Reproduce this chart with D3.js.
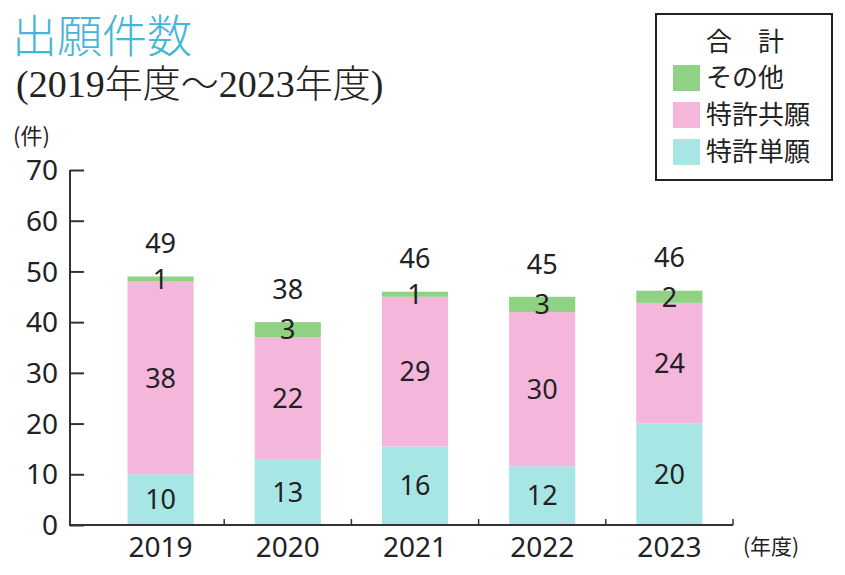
<!DOCTYPE html>
<html><head><meta charset="utf-8">
<script src="https://cdn.jsdelivr.net/npm/d3@7"></script>
<style>body{margin:0;background:#fff}svg{display:block}</style>
</head><body>
<svg id="c" width="845" height="575"></svg>
<script>
const years = ["2019","2020","2021","2022","2023"];
// segment heights as drawn in the picture
const single = [10, 13, 15.5, 11.6, 20];
const joint  = [38, 24, 29.5, 30.4, 23.8];
const other  = [1, 3, 1, 3, 2.4];
// printed labels
const singleLabels = ["10","13","16","12","20"];
const jointLabels  = ["38","22","29","30","24"];
const otherLabels  = ["1","3","1","3","2"];
const totalLabels  = ["49","38","46","45","46"];
const yTicks = [0,10,20,30,40,50,60,70];
const seriesNames = ["その他","特許共願","特許単願"];

const colors = {single:"#a8e6e6", joint:"#f5b6dc", other:"#8fd283"};
const font = "'Noto Sans','Open Sans',sans-serif";
const cjk = "'Noto Sans CJK JP',sans-serif";
const svg = d3.select("#c");

const y = d3.scaleLinear().domain([0,70]).range([525,170]);
const x = d3.scaleBand().domain(years).range([97,733]).paddingInner(0.48).paddingOuter(0.24);

// title
svg.append("text").attr("x",12).attr("y",53).attr("fill","#45b6d6")
  .attr("font-family",cjk).attr("font-weight",300).attr("font-size",45).text("出願件数");
svg.append("text").attr("x",16).attr("y",97).attr("fill","#222").attr("font-weight",300)
  .attr("font-family","'Liberation Serif','DejaVu Serif','Noto Sans CJK JP',serif").attr("font-size",38).text("(2019年度～2023年度)");

// stacked data
const rows = years.map((yr,i)=>({year:yr, single:single[i], joint:joint[i], other:other[i]}));
const stack = d3.stack().keys(["single","joint","other"])(rows);
const labelMap = {single:singleLabels, joint:jointLabels, other:otherLabels};

const g = svg.append("g");
stack.forEach(layer=>{
  g.selectAll(null).data(layer).join("rect")
    .attr("x",d=>x(d.data.year)).attr("width",x.bandwidth())
    .attr("y",d=>y(d[1])).attr("height",d=>y(d[0])-y(d[1]))
    .attr("fill",colors[layer.key]);
});
stack.forEach(layer=>{
  g.selectAll(null).data(layer).join("text")
    .attr("x",d=>x(d.data.year)+x.bandwidth()/2)
    .attr("y",d=>(y(d[0])+y(d[1]))/2)
    .attr("dy","0.36em").attr("text-anchor","middle")
    .attr("font-family",font).attr("font-size",27).attr("fill","#222")
    .text((d,i)=>labelMap[layer.key][i]);
});
// totals
const topLayer = stack[2];
g.selectAll(null).data(topLayer).join("text")
  .attr("x",d=>x(d.data.year)+x.bandwidth()/2)
  .attr("y",d=>y(d[1])-33).attr("dy","0.36em").attr("text-anchor","middle")
  .attr("font-family",font).attr("font-size",27).attr("fill","#222")
  .text((d,i)=>totalLabels[i]);

// y axis
const ya = svg.append("g").attr("transform","translate(70,0)")
  .call(d3.axisRight(y).tickValues(yTicks).tickSize(14).tickFormat(""));
ya.select(".domain").remove();
ya.selectAll("line").attr("stroke","#333").attr("stroke-width",2);
svg.append("line").attr("x1",70).attr("x2",70).attr("y1",y(70)).attr("y2",526).attr("stroke","#333").attr("stroke-width",2);
svg.selectAll(".ytl").data(yTicks).join("text").attr("class","ytl")
  .attr("x",58).attr("y",d=>y(d)).attr("dy","0.36em").attr("text-anchor","end")
  .attr("font-family",font).attr("font-size",28).attr("fill","#222").text(d=>d);
svg.append("text").attr("x",13).attr("y",144).attr("font-family",cjk).attr("font-size",22).attr("fill","#222").text("(件)");

// x axis
svg.append("line").attr("x1",69).attr("x2",733).attr("y1",525).attr("y2",525).attr("stroke","#333").attr("stroke-width",2);
const bounds = years.map(yr=>x(yr)+x.bandwidth()+x.step()*x.paddingInner()/2);
svg.selectAll(".xt").data(bounds).join("line").attr("class","xt")
  .attr("x1",d=>d).attr("x2",d=>d).attr("y1",525).attr("y2",519).attr("stroke","#333").attr("stroke-width",1.5);
svg.selectAll(".xtl").data(years).join("text").attr("class","xtl")
  .attr("x",d=>x(d)+x.bandwidth()/2).attr("y",557).attr("text-anchor","middle")
  .attr("font-family",font).attr("font-size",28).attr("fill","#222").text(d=>d);
svg.append("text").attr("x",743).attr("y",554).attr("font-family",cjk).attr("font-size",21).attr("fill","#222").text("(年度)");

// legend
const lg = svg.append("g");
lg.append("rect").attr("x",656).attr("y",14).attr("width",176).attr("height",166).attr("fill","#fff").attr("stroke","#222").attr("stroke-width",2);
lg.append("text").attr("x",745).attr("y",42).attr("dy","0.36em").attr("text-anchor","middle")
  .attr("font-family",cjk).attr("font-size",26).attr("fill","#222").text("合　計");
const legCols = [colors.other, colors.joint, colors.single];
const legY = [78, 115, 152];
seriesNames.forEach((n,i)=>{
  lg.append("rect").attr("x",673).attr("y",legY[i]-13).attr("width",27).attr("height",26).attr("fill",legCols[i]);
  lg.append("text").attr("x",706).attr("y",legY[i]).attr("dy","0.36em")
    .attr("font-family",cjk).attr("font-size",26).attr("fill","#222").text(n);
});
</script>
</body></html>
